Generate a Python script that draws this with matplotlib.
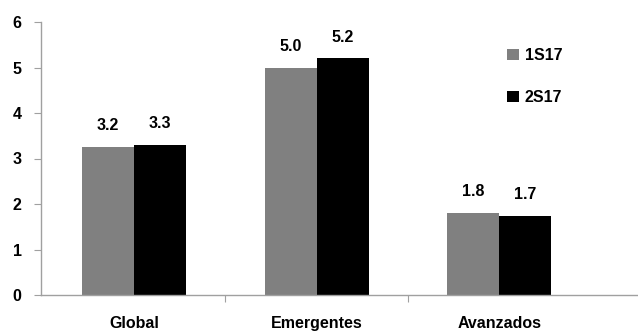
import matplotlib
matplotlib.use("Agg")
import matplotlib.pyplot as plt
import numpy as np

categories = ["Global", "Emergentes", "Avanzados"]
series_names = ["1S17", "2S17"]
s1_values = [3.25, 5.0, 1.8]
s2_values = [3.3, 5.2, 1.73]
s1_labels = ["3.2", "5.0", "1.8"]
s2_labels = ["3.3", "5.2", "1.7"]
y_ticks = [0, 1, 2, 3, 4, 5, 6]

fs = 11.5
plt.rcParams['font.family'] = ['Liberation Sans', 'DejaVu Sans']
plt.rcParams['font.weight'] = 'bold'

fig = plt.figure(figsize=(6.38, 3.32), dpi=100)
ax = fig.add_axes([41/638, 1-295/332, (638-41)/638, (295-22)/332])

x = np.arange(len(categories))
w = 0.285
b1 = ax.bar(x - w/2, s1_values, w, color="#808080", label=series_names[0])
b2 = ax.bar(x + w/2, s2_values, w, color="#000000", label=series_names[1])

for bars, labs in ((b1, s1_labels), (b2, s2_labels)):
    for r, t in zip(bars, labs):
        ax.annotate(t, (r.get_x() + r.get_width()/2, r.get_height()),
                    xytext=(0, 10), textcoords="offset points",
                    ha="center", va="bottom", fontsize=fs, fontweight="bold")

ax.set_xlim(-0.51, 2.76)
ax.set_ylim(0, 6)
ax.set_yticks(y_ticks)
ax.set_yticklabels([str(v) for v in y_ticks], fontsize=fs, fontweight="bold")
ax.set_xticks([0.5, 1.5])
ax.set_xticklabels([])
ax.set_xticks(x, minor=True)
ax.set_xticklabels(categories, minor=True, fontsize=fs, fontweight="bold")
ax.tick_params(axis="x", which="minor", length=0, pad=15)
ax.tick_params(axis="x", which="major", length=5, color="#a0a0a0", direction="out")
ax.tick_params(axis="y", length=5, color="#a0a0a0", pad=9)

for s in ("top", "right"):
    ax.spines[s].set_visible(False)
for s in ("left", "bottom"):
    ax.spines[s].set_color("#a0a0a0")
    ax.spines[s].set_linewidth(1)

leg = ax.legend(loc="upper left", bbox_to_anchor=((507-41)/(638-41), 1 - (48-22)/273),
                frameon=False, fontsize=fs, handlelength=0.75, handleheight=0.75,
                handletextpad=0.35, labelspacing=1.7, borderaxespad=0, borderpad=0)

fig.savefig("out.png", dpi=100)
